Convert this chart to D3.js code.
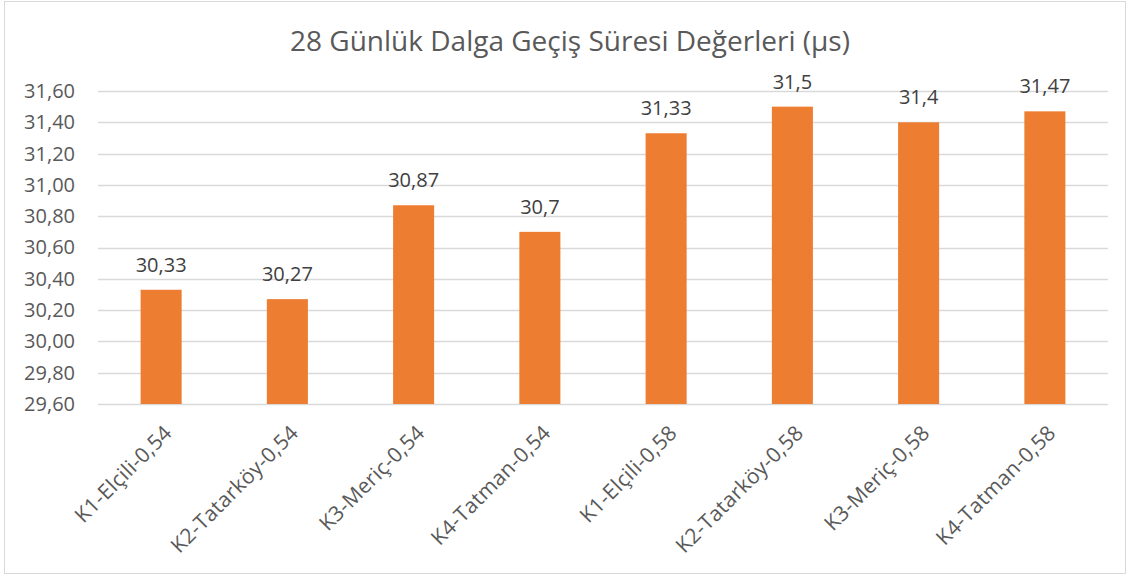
<!DOCTYPE html>
<html>
<head>
<meta charset="utf-8">
<script src="https://cdn.jsdelivr.net/npm/d3@7"></script>
<style>
  body { margin: 0; background: #fff; }
  text { font-family: "Open Sans", sans-serif; }
</style>
</head>
<body>
<div id="chart"></div>
<script>
const categories = [
  'K1-Elçili-0,54', 'K2-Tatarköy-0,54', 'K3-Meriç-0,54', 'K4-Tatman-0,54',
  'K1-Elçili-0,58', 'K2-Tatarköy-0,58', 'K3-Meriç-0,58', 'K4-Tatman-0,58'
];
const values = [30.33, 30.27, 30.87, 30.7, 31.33, 31.5, 31.4, 31.47];
const valueLabels = ['30,33', '30,27', '30,87', '30,7', '31,33', '31,5', '31,4', '31,47'];
const yTicks = [29.6, 29.8, 30.0, 30.2, 30.4, 30.6, 30.8, 31.0, 31.2, 31.4, 31.6];

const width = 1130, height = 576;
const margin = { top: 91, right: 22, bottom: 172, left: 98 };
const graphWidth = width - margin.left - margin.right;
const graphHeight = height - margin.top - margin.bottom;

const svg = d3.select('#chart')
  .append('svg')
  .attr('width', width)
  .attr('height', height);

// chart border
svg.append('rect')
  .attr('x', 4.5).attr('y', 1.5)
  .attr('width', 1121).attr('height', 572)
  .attr('fill', 'none')
  .attr('stroke', '#d9d9d9');

svg.append('text')
  .attr('x', 570)
  .attr('y', 51)
  .attr('text-anchor', 'middle')
  .attr('fill', '#595959')
  .style('font-size', '28px')
  .text('28 Günlük Dalga Geçiş Süresi Değerleri (µs)');

const graph = svg.append('g')
  .attr('transform', `translate(${margin.left}, ${margin.top})`);

const y = d3.scaleLinear()
  .domain([29.6, 31.6])
  .range([graphHeight, 0]);

const x = d3.scaleBand()
  .domain(categories)
  .range([0, graphWidth])
  .paddingInner(0.675)
  .paddingOuter(0.3375);

const fmt = d => d.toFixed(2).replace('.', ',');

// gridlines
graph.append('g')
  .selectAll('line')
  .data(yTicks)
  .enter()
  .append('line')
  .attr('x1', 0).attr('x2', graphWidth)
  .attr('y1', d => Math.round(y(d)) + 0.5)
  .attr('y2', d => Math.round(y(d)) + 0.5)
  .attr('stroke', '#d9d9d9')
  .attr('stroke-width', 1.5);

const yAxis = d3.axisLeft(y)
  .tickValues(yTicks)
  .tickFormat(fmt)
  .tickSize(0)
  .tickPadding(23);

const yAxisGroup = graph.append('g').call(yAxis);
yAxisGroup.select('.domain').remove();
yAxisGroup.selectAll('text')
  .attr('fill', '#595959')
  .style('font-size', '20px');

graph.selectAll('rect.bar')
  .data(values)
  .enter()
  .append('rect')
  .attr('class', 'bar')
  .attr('x', (d, i) => x(categories[i]))
  .attr('width', x.bandwidth())
  .attr('y', d => y(d))
  .attr('height', d => graphHeight - y(d))
  .attr('fill', '#ed7d31');

graph.selectAll('text.val')
  .data(values)
  .enter()
  .append('text')
  .attr('class', 'val')
  .attr('x', (d, i) => x(categories[i]) + x.bandwidth() / 2)
  .attr('y', d => y(d) - 18)
  .attr('text-anchor', 'middle')
  .attr('fill', '#404040')
  .style('font-size', '20px')
  .text((d, i) => valueLabels[i]);

const xAxis = d3.axisBottom(x).tickSize(0).tickPadding(0);
const xAxisGroup = graph.append('g')
  .attr('transform', `translate(0, ${graphHeight})`)
  .call(xAxis);
xAxisGroup.select('.domain').remove();
xAxisGroup.selectAll('text')
  .attr('transform', 'translate(7, 25) rotate(-45)')
  .attr('text-anchor', 'end')
  .attr('dy', '0.35em')
  .attr('fill', '#595959')
  .style('font-size', '21px')
  .style('letter-spacing', '0.3px');
</script>
</body>
</html>
